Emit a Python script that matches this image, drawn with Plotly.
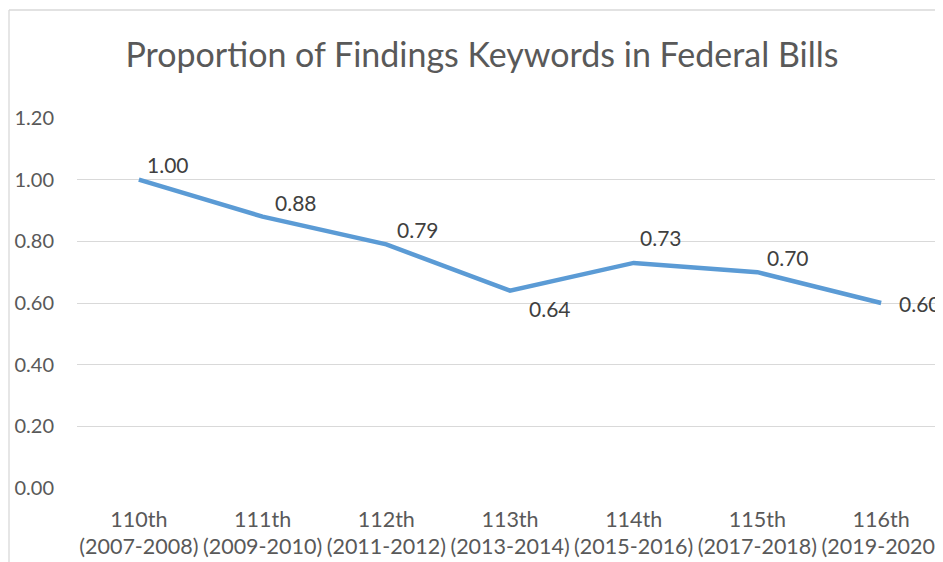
import plotly.graph_objects as go

congress = ["110th", "111th", "112th", "113th", "114th", "115th", "116th"]
years = ["(2007-2008)", "(2009-2010)", "(2011-2012)", "(2013-2014)",
         "(2015-2016)", "(2017-2018)", "(2019-2020)"]
proportion = [1.00, 0.88, 0.79, 0.64, 0.73, 0.70, 0.60]
y_ticks = [0.0, 0.2, 0.4, 0.6, 0.8, 1.0, 1.2]

# data-label offsets from each point (pixels; style only)
label_dx = [6, 10, 9, 17, 4, 8, 16]
label_dy = [15, 14, 15, -18, 25, 15, 0]

FONT = "Lato, 'Open Sans', sans-serif"
GRID = "#D9D9D9"

cats = [f"{c}<br>{y}" for c, y in zip(congress, years)]
xs = list(range(len(cats)))

# page has an 8px body margin: figure sized to fit the 943x562 window
W, H = 935, 554
L, T, R, B = 69, 110, 0, 74
PW = W - L - R
PH = H - T - B

fig = go.Figure()
fig.add_trace(go.Scatter(
    x=xs, y=proportion,
    mode="lines",
    line=dict(color="#5B9BD5", width=4.5),
    cliponaxis=False,
    hoverinfo="skip",
))

annotations = [
    dict(x=x, y=v, xref="x", yref="y", text=f"{v:.2f}", showarrow=False,
         xanchor="left", yanchor="middle", xshift=dx, yshift=dy,
         font=dict(family=FONT, size=21, color="#404040"))
    for x, v, dx, dy in zip(xs, proportion, label_dx, label_dy)
]

fig.update_layout(
    width=W, height=H,
    margin=dict(l=L, r=R, t=T, b=B),
    paper_bgcolor="white", plot_bgcolor="white",
    showlegend=False,
    annotations=annotations,
    title=dict(text="Proportion of Findings Keywords in Federal Bills",
               x=474 / W, xanchor="center", y=1 - 47 / H, yanchor="middle",
               xref="container", yref="container",
               font=dict(family=FONT, size=34, color="#595959")),
    xaxis=dict(
        tickmode="array", tickvals=xs, ticktext=cats,
        range=[-0.5, 6.5], showgrid=False, zeroline=False,
        showline=False, ticks="",
        tickfont=dict(family=FONT, size=21.5, color="#595959"),
        ticklabelstandoff=16,
    ),
    yaxis=dict(
        range=[0, 1.2], tickmode="array", tickvals=y_ticks,
        ticktext=[f"{v:.2f}" for v in y_ticks],
        showgrid=True, gridcolor=GRID, gridwidth=1.3,
        zeroline=False, showline=False, ticks="",
        tickfont=dict(family=FONT, size=20, color="#595959"),
        ticklabelstandoff=22,
    ),
    shapes=[
        dict(type="line", xref="paper", yref="paper",
             x0=(1 - L) / PW, x1=1.01, y0=(PH + T - 2) / PH, y1=(PH + T - 2) / PH,
             line=dict(color=GRID, width=1.3)),
        dict(type="line", xref="paper", yref="paper",
             x0=(1 - L) / PW, x1=(1 - L) / PW, y0=(PH + T - 2) / PH, y1=-0.3,
             line=dict(color=GRID, width=1.3)),
    ],
)

fig.write_html("out.html")
